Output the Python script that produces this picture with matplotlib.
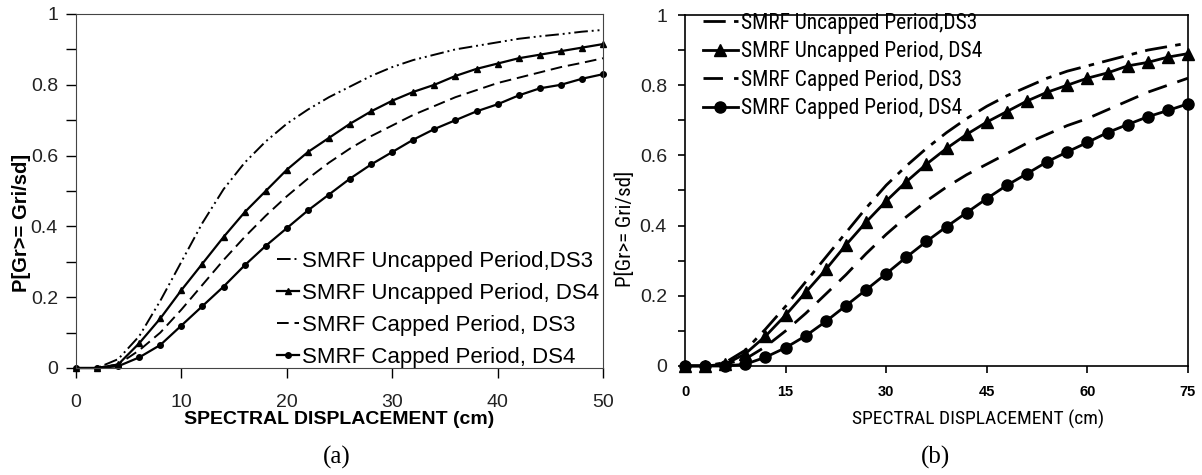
import matplotlib
matplotlib.use('Agg')
import matplotlib.pyplot as plt
from matplotlib import font_manager
from matplotlib.ticker import MultipleLocator

plt.rcParams['font.family'] = ['Liberation Sans', 'DejaVu Sans']

# use a narrow face for panel (b) if the system has one
names = set(f.name for f in font_manager.fontManager.ttflist)
narrow = None
for cand in ['Liberation Sans Narrow', 'Arial Narrow', 'Roboto Condensed', 'DejaVu Sans Condensed']:
    if cand in names:
        narrow = cand
        break
if narrow:
    NARROW = [narrow, 'Liberation Sans']
    nscale = 1.0
else:
    NARROW = ['Liberation Sans']
    nscale = 0.82

# ---- panel (a) data, every 2 cm ----
sd_a = [0, 2, 4, 6, 8, 10, 12, 14, 16, 18, 20, 22, 24, 26, 28, 30, 32, 34, 36, 38, 40, 42, 44, 46, 48, 50]
unc_ds3_a = [0, 0, 0.025, 0.09, 0.19, 0.30, 0.41, 0.505, 0.58, 0.64, 0.69, 0.73, 0.765, 0.795, 0.825,
             0.85, 0.87, 0.885, 0.90, 0.91, 0.92, 0.93, 0.937, 0.943, 0.95, 0.955]
unc_ds4_a = [0, 0, 0.01, 0.07, 0.14, 0.22, 0.295, 0.37, 0.44, 0.50, 0.56, 0.61, 0.65, 0.69, 0.725,
             0.755, 0.78, 0.80, 0.825, 0.845, 0.86, 0.875, 0.885, 0.895, 0.905, 0.915]
cap_ds3_a = [0, 0, 0.01, 0.05, 0.10, 0.165, 0.235, 0.305, 0.37, 0.43, 0.485, 0.535, 0.58, 0.62, 0.655,
             0.685, 0.715, 0.74, 0.765, 0.785, 0.805, 0.82, 0.835, 0.85, 0.862, 0.875]
cap_ds4_a = [0, 0, 0.005, 0.03, 0.065, 0.12, 0.175, 0.23, 0.29, 0.345, 0.395, 0.445, 0.49, 0.535, 0.575,
             0.61, 0.645, 0.675, 0.70, 0.725, 0.745, 0.77, 0.79, 0.80, 0.817, 0.83]

# ---- panel (b) data, every 3 cm ----
sd_b = [0, 3, 6, 9, 12, 15, 18, 21, 24, 27, 30, 33, 36, 39, 42, 45, 48, 51, 54, 57, 60, 63, 66, 69, 72, 75]
unc_ds3_b = [0, 0, 0.01, 0.045, 0.105, 0.17, 0.24, 0.31, 0.38, 0.45, 0.515, 0.57, 0.62, 0.665, 0.705,
             0.74, 0.77, 0.795, 0.82, 0.84, 0.855, 0.87, 0.885, 0.90, 0.91, 0.92]
unc_ds4_b = [0, 0, 0.005, 0.035, 0.085, 0.145, 0.21, 0.275, 0.345, 0.41, 0.47, 0.525, 0.575, 0.62, 0.66,
             0.695, 0.725, 0.755, 0.78, 0.80, 0.82, 0.835, 0.855, 0.865, 0.88, 0.89]
cap_ds3_b = [0, 0, 0.005, 0.02, 0.055, 0.10, 0.15, 0.205, 0.26, 0.32, 0.375, 0.425, 0.47, 0.51, 0.545,
             0.575, 0.605, 0.635, 0.66, 0.685, 0.705, 0.73, 0.755, 0.78, 0.80, 0.82]
cap_ds4_b = [0, 0, 0, 0.005, 0.025, 0.052, 0.086, 0.127, 0.172, 0.217, 0.263, 0.31, 0.355, 0.397, 0.437,
             0.477, 0.515, 0.548, 0.582, 0.61, 0.637, 0.665, 0.688, 0.71, 0.728, 0.747]

labels = ['SMRF Uncapped Period,DS3', 'SMRF Uncapped Period, DS4',
          'SMRF Capped Period, DS3', 'SMRF Capped Period, DS4']
yticks = [0, 0.2, 0.4, 0.6, 0.8, 1]
yticklabels = ['0', '0.2', '0.4', '0.6', '0.8', '1']

fig = plt.figure(figsize=(12.02, 4.75), dpi=100)
W, H = 1202.0, 475.0

def box(l, r, t, b):
    return [l / W, 1 - b / H, (r - l) / W, (b - t) / H]

# ---------------- (a) ----------------
ax1 = fig.add_axes(box(76, 603, 14, 368))
ax1.plot(sd_a, unc_ds3_a, color='k', lw=1.4, ls=(0, (7, 2, 1, 2, 1, 2)), label=labels[0])
ax1.plot(sd_a, unc_ds4_a, color='k', lw=1.6, marker='^', ms=4, label=labels[1], clip_on=False)
ax1.plot(sd_a, cap_ds3_a, color='k', lw=1.4, ls=(0, (6, 3)), label=labels[2])
ax1.plot(sd_a, cap_ds4_a, color='k', lw=1.6, marker='o', ms=4, label=labels[3], clip_on=False)
ax1.set_xlim(0, 50)
ax1.set_ylim(0, 1)
ax1.xaxis.set_major_locator(MultipleLocator(10))
ax1.set_yticks(yticks)
ax1.set_yticklabels(yticklabels)
ax1.yaxis.set_minor_locator(MultipleLocator(0.1))
ax1.tick_params(axis='both', which='both', direction='out', length=7, width=1,
                labelsize=14, labelcolor='#222222')
ax1.tick_params(axis='y', pad=6)
ax1.tick_params(axis='x', pad=12)
ax1.set_xlabel('SPECTRAL DISPLACEMENT (cm)', fontsize=14, fontweight='bold', va='top')
ax1.xaxis.set_label_coords(0.5, -0.122)
ax1.set_ylabel('P[Gr>= Gri/sd]', fontsize=14.5, fontweight='bold', va='center')
ax1.yaxis.set_label_coords(-0.104, 0.41)
for sp in ax1.spines.values():
    sp.set_color('#444444')
ax1.legend(loc='lower right', bbox_to_anchor=(1.01, -0.025), frameon=False, fontsize=16,
           handlelength=1.0, handletextpad=0.15, labelspacing=0.5, borderaxespad=0.0)

# ---------------- (b) ----------------
ax2 = fig.add_axes(box(685, 1188, 15, 366))
ax2.plot(sd_b, unc_ds3_b, color='k', lw=2, ls=(0, (8, 3, 2, 3)), label=labels[0])
ax2.plot(sd_b, unc_ds4_b, color='k', lw=2, marker='^', ms=8, label=labels[1], clip_on=False)
ax2.plot(sd_b, cap_ds3_b, color='k', lw=2, ls=(0, (7, 4)), label=labels[2])
ax2.plot(sd_b, cap_ds4_b, color='k', lw=2, marker='o', ms=8, label=labels[3], clip_on=False)
ax2.set_xlim(0, 75)
ax2.set_ylim(0, 1)
ax2.xaxis.set_major_locator(MultipleLocator(15))
ax2.set_yticks(yticks)
ax2.set_yticklabels(yticklabels)
ax2.yaxis.set_minor_locator(MultipleLocator(0.1))
ax2.tick_params(axis='both', which='both', direction='out', length=5, width=1.2)
ax2.tick_params(axis='y', labelsize=14, labelcolor='#222222', pad=8)
ax2.tick_params(axis='x', labelsize=10.5, pad=9)
for t in ax2.get_xticklabels():
    t.set_fontweight('bold')
ax2.set_xlabel('SPECTRAL DISPLACEMENT (cm)', fontsize=14 * nscale, family=NARROW, va='top')
ax2.xaxis.set_label_coords(0.582, -0.125)
ax2.set_ylabel('P[Gr>= Gri/sd]', fontsize=15 * nscale, family=NARROW, va='center')
ax2.yaxis.set_label_coords(-0.118, 0.39)
for sp in ax2.spines.values():
    sp.set_linewidth(1.2)
ax2.legend(loc='upper left', bbox_to_anchor=(0.018, 1.031), frameon=False,
           prop={'family': NARROW, 'size': 15.5 * nscale}, handlelength=1.63,
           handletextpad=0.15, labelspacing=0.35, borderaxespad=0.0)

fig.text(337 / W, 1 - 457 / H, '(a)', ha='center', va='center', fontsize=18, family='Liberation Serif')
fig.text(936 / W, 1 - 457 / H, '(b)', ha='center', va='center', fontsize=18, family='Liberation Serif')

fig.savefig('out.png', dpi=100)
